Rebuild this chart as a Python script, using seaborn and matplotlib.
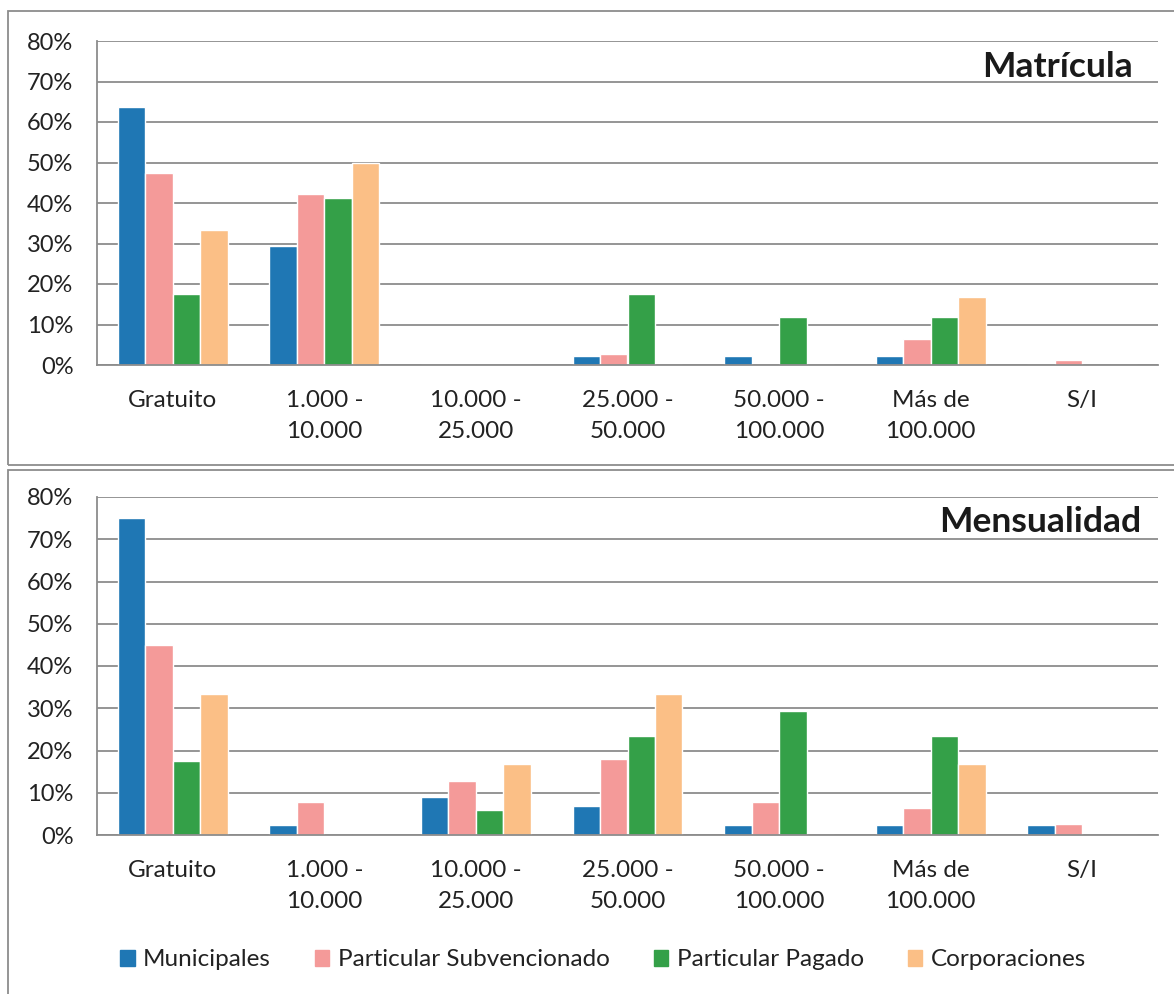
import seaborn as sns
import matplotlib.pyplot as plt
import pandas as pd
from matplotlib.patches import Rectangle
from matplotlib.ticker import PercentFormatter

categories = ["Gratuito", "1.000 -\n10.000", "10.000 -\n25.000", "25.000 -\n50.000",
              "50.000 -\n100.000", "Más de\n100.000", "S/I"]
series = ["Municipales", "Particular Subvencionado", "Particular Pagado", "Corporaciones"]
colors = ["#1f77b4", "#f49a99", "#34a048", "#fbbf86"]

# Matrícula (%)
mat_municipales = [63.6, 29.5, 0, 2.3, 2.3, 2.3, 0]
mat_subvencionado = [47.4, 42.3, 0, 2.6, 0, 6.4, 1.3]
mat_pagado = [17.6, 41.2, 0, 17.6, 11.8, 11.8, 0]
mat_corporaciones = [33.3, 50.0, 0, 0, 0, 16.7, 0]

# Mensualidad (%)
men_municipales = [75.0, 2.3, 9.1, 6.8, 2.3, 2.3, 2.3]
men_subvencionado = [44.9, 7.7, 12.8, 17.9, 7.7, 6.4, 2.6]
men_pagado = [17.6, 0, 5.9, 23.5, 29.4, 23.5, 0]
men_corporaciones = [33.3, 0, 16.7, 33.3, 0, 16.7, 0]


def long_df(values):
    rows = []
    for s, vals in zip(series, values):
        for c, v in zip(categories, vals):
            rows.append({"cat": c, "serie": s, "val": v})
    return pd.DataFrame(rows)


sns.set_style("white")
plt.rcParams["font.family"] = ["Lato", "DejaVu Sans"]

fig = plt.figure(figsize=(11.74, 9.94), dpi=100)
W, H = 1174, 994

# panel frames
for x0, y0, x1, y1 in [(8, 11, 1180, 465), (8, 470, 1180, 1000)]:
    fig.patches.append(Rectangle((x0 / W, 1 - y1 / H), (x1 - x0) / W, (y1 - y0) / H,
                                 transform=fig.transFigure, fill=False,
                                 edgecolor="#8c8c8c", linewidth=1.3, zorder=0))

ax1 = fig.add_axes([97 / W, 1 - 365 / H, 1061 / W, 324 / H])
ax2 = fig.add_axes([97 / W, 1 - 835 / H, 1061 / W, 338 / H])

panels = [
    (ax1, [mat_municipales, mat_subvencionado, mat_pagado, mat_corporaciones], "Matrícula", (1133, 67)),
    (ax2, [men_municipales, men_subvencionado, men_pagado, men_corporaciones], "Mensualidad", (1141, 522)),
]

for ax, vals, title, (tx, ty) in panels:
    df = long_df(vals)
    sns.barplot(data=df, x="cat", y="val", hue="serie", palette=colors,
                width=0.725, ax=ax, legend=False, saturation=1, zorder=3)
    ax.set_ylim(0, 80)
    ax.set_xlim(-0.5, 6.5)
    ax.set_yticks(range(0, 81, 10))
    ax.yaxis.set_major_formatter(PercentFormatter(decimals=0))
    ax.set_xlabel("")
    ax.set_ylabel("")
    ax.set_xticks([i - 0.5 for i in range(8)], minor=False)
    ax.set_xticklabels([])
    ax.set_xticks(range(7), minor=True)
    ax.set_xticklabels(categories, minor=True, fontsize=17.5, linespacing=1.6, color="#222222")
    ax.tick_params(axis="x", which="major", direction="out", length=7, width=1.3, color="#8c8c8c")
    ax.tick_params(axis="x", which="minor", length=0, pad=18)
    ax.tick_params(axis="y", direction="out", length=7, width=1.3, color="#8c8c8c",
                   labelsize=17, labelcolor="#222222", pad=10)
    ax.grid(axis="y", color="#8c8c8c", linewidth=1.3, zorder=0)
    ax.set_axisbelow(True)
    for side in ["top", "right"]:
        ax.spines[side].set_visible(False)
    for side in ["left", "bottom"]:
        ax.spines[side].set_color("#8c8c8c")
        ax.spines[side].set_linewidth(1.3)
        ax.spines[side].set_zorder(4)
    fig.text(tx / W, 1 - ty / H, title, ha="right", va="center",
             fontsize=25.5, fontweight="bold", color="#1a1a1a")

handles = [Rectangle((0, 0), 1, 1, color=c) for c in colors]
fig.legend(handles, series, loc="center", bbox_to_anchor=(603 / W, 1 - 960 / H), ncol=4,
           frameon=False, fontsize=17.5, handlelength=0.6, handleheight=0.6,
           handletextpad=0.35, columnspacing=1.8, labelcolor="#222222")

fig.savefig("out.png", dpi=100)
